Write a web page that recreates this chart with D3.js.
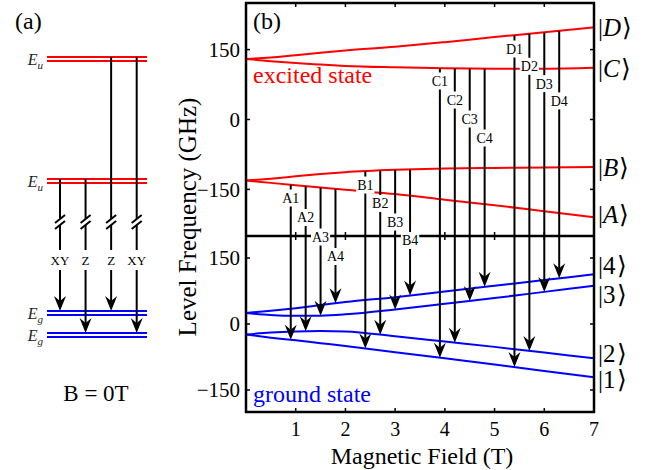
<!DOCTYPE html>
<html>
<head>
<meta charset="utf-8">
<script src="https://cdn.jsdelivr.net/npm/d3@7"></script>
<style>
  body { margin: 0; background: #fff; }
  svg { font-family: "Liberation Serif", "Times New Roman", serif; }
</style>
</head>
<body>
<svg id="chart" width="646" height="470"></svg>
<script>
const fieldT = [0, 0.5, 1, 1.5, 2, 3, 4, 5, 6, 7];

// Excited state levels (GHz)
const levelD = [130, 133, 138, 143, 148, 156, 166, 177, 187, 198];
const levelC = [130, 125, 121, 118, 115, 112, 110, 109, 109, 111];
const levelB = [-131, -127, -122, -117, -113, -108, -105, -104, -103, -102];
const levelA = [-131, -136, -141, -146, -151, -160, -172, -184, -197, -210];

// Ground state levels (GHz)
const level4 = [25, 30, 36, 43, 50, 61, 74, 87, 100, 113];
const level3 = [25, 20.5, 18.5, 19, 22, 33, 46, 59, 73, 87];
const level2 = [-24, -19.5, -17, -16, -17, -28, -40, -52, -65, -78];
const level1 = [-24, -31, -37, -43.5, -50, -64, -78, -92, -107, -121];

const excitedNames = ["D", "C", "B", "A"];
const groundNames = ["4", "3", "2", "1"];

// Optical transitions: label (excited letter + ground number) and field
const transLabels = ["A1", "A2", "A3", "A4", "B1", "B2", "B3", "B4",
                     "C1", "C2", "C3", "C4", "D1", "D2", "D3", "D4"];
const transField = [0.9, 1.2, 1.5, 1.8, 2.4, 2.7, 3.0, 3.3,
                    3.9, 4.2, 4.5, 4.8, 5.4, 5.7, 6.0, 6.3];

const yTicks = [-150, 0, 150];
const xTicks = [1, 2, 3, 4, 5, 6, 7];

// Panel (a): schematic zero-field levels (arbitrary units)
const zeroFieldNames = ["u", "u", "g", "g"];
const zeroFieldEnergy = [276, 154, 22, 0];
const zeroFieldTrans = ["XY", "Z", "Z", "XY"];
const zeroFieldFrom = [1, 1, 0, 0];
const zeroFieldTo = [2, 3, 2, 3];

const svg = d3.select("#chart");
const RED = "#ff0000", BLUE = "#0000ff";

// ---------- panel (b) scales ----------
const x = d3.scaleLinear().domain([0, 7]).range([246, 594]);
const yTop = d3.scaleLinear().domain([-250, 250]).range([236, 3]);
const yBot = d3.scaleLinear().domain([-200, 200]).range([412, 236]);

const excited = { D: levelD, C: levelC, B: levelB, A: levelA };
const ground = { "4": level4, "3": level3, "2": level2, "1": level1 };

function valueAt(arr, b) {
  return d3.scaleLinear().domain(fieldT).range(arr)(b);
}

function curve(yScale) {
  return d3.line()
    .x(d => x(d[0]))
    .y(d => yScale(d[1]))
    .curve(d3.curveMonotoneX);
}

// level curves
excitedNames.forEach(n => {
  svg.append("path")
    .attr("d", curve(yTop)(fieldT.map((b, i) => [b, excited[n][i]])))
    .attr("fill", "none").attr("stroke", RED).attr("stroke-width", 2);
});
groundNames.forEach(n => {
  svg.append("path")
    .attr("d", curve(yBot)(fieldT.map((b, i) => [b, ground[n][i]])))
    .attr("fill", "none").attr("stroke", BLUE).attr("stroke-width", 2);
});

// arrowhead shape, tip at origin pointing down
const headPath = "M0,0 L-6,-15 L0,-10 L6,-15 Z";

// transition arrows
transLabels.forEach((lab, i) => {
  const b = transField[i];
  const y1 = yTop(valueAt(excited[lab[0]], b));
  const y2 = yBot(valueAt(ground[lab[1]], b));
  svg.append("line")
    .attr("x1", x(b)).attr("x2", x(b))
    .attr("y1", y1).attr("y2", y2 - 10)
    .attr("stroke", "#000").attr("stroke-width", 2);
  svg.append("path")
    .attr("d", headPath)
    .attr("transform", `translate(${x(b)},${y2})`)
    .attr("fill", "#000");
});

// frame and separator
svg.append("rect")
  .attr("x", 246).attr("y", 3).attr("width", 348).attr("height", 409)
  .attr("fill", "none").attr("stroke", "#000").attr("stroke-width", 2.5);
svg.append("line")
  .attr("x1", 246).attr("x2", 594).attr("y1", 236).attr("y2", 236)
  .attr("stroke", "#000").attr("stroke-width", 2.5);

// inner ticks
const tickLen = 4;
[yTop, yBot].forEach(ys => {
  yTicks.forEach(t => {
    svg.append("line").attr("x1", 246).attr("x2", 246 + tickLen)
      .attr("y1", ys(t)).attr("y2", ys(t)).attr("stroke", "#000").attr("stroke-width", 1.5);
    svg.append("line").attr("x1", 594).attr("x2", 594 - tickLen)
      .attr("y1", ys(t)).attr("y2", ys(t)).attr("stroke", "#000").attr("stroke-width", 1.5);
  });
  const [yb, yt] = ys.range();
  xTicks.slice(0, -1).forEach(t => {
    svg.append("line").attr("x1", x(t)).attr("x2", x(t))
      .attr("y1", yb).attr("y2", yb - tickLen).attr("stroke", "#000").attr("stroke-width", 1.5);
    svg.append("line").attr("x1", x(t)).attr("x2", x(t))
      .attr("y1", yt).attr("y2", yt + tickLen).attr("stroke", "#000").attr("stroke-width", 1.5);
  });
});

// tick labels
[yTop, yBot].forEach(ys => {
  yTicks.forEach(t => {
    svg.append("text")
      .attr("x", 240).attr("y", ys(t)).attr("dy", "0.35em")
      .attr("text-anchor", "end").attr("font-size", 21)
      .text(t < 0 ? "\u2212" + Math.abs(t) : t);
  });
});
xTicks.forEach(t => {
  svg.append("text")
    .attr("x", x(t)).attr("y", 436)
    .attr("text-anchor", "middle").attr("font-size", 20)
    .text(t);
});

// axis titles
svg.append("text")
  .attr("x", 422).attr("y", 464)
  .attr("text-anchor", "middle").attr("font-size", 24)
  .text("Magnetic Field (T)");
svg.append("text")
  .attr("transform", "translate(196,217) rotate(-90)")
  .attr("text-anchor", "middle").attr("font-size", 25)
  .text("Level Frequency (GHz)");

// state annotations
svg.append("text").attr("x", 253).attr("y", 83).attr("font-size", 24)
  .attr("fill", RED).text("excited state");
svg.append("text").attr("x", 253).attr("y", 402).attr("font-size", 24)
  .attr("fill", BLUE).text("ground state");
svg.append("text").attr("x", 253).attr("y", 29).attr("font-size", 24).text("(b)");

// kets at the right edge
const ketShiftTop = [0, 0, 0, -3];
const ketShiftBot = [-9, 9, -5, 2];
function ket(yPos, name, italic) {
  const t = svg.append("text").attr("x", 598).attr("y", yPos).attr("dy", "0.35em")
    .attr("font-size", 25);
  t.append("tspan").text("|");
  t.append("tspan").attr("font-style", italic ? "italic" : "normal").text(name);
  t.append("tspan").attr("dx", 1).text("\u27E9");
}
excitedNames.forEach((n, i) => ket(yTop(excited[n][fieldT.length - 1]) + ketShiftTop[i], n, true));
groundNames.forEach((n, i) => ket(yBot(ground[n][fieldT.length - 1]) + ketShiftBot[i], n, false));

// transition labels with white background, stacked down each group
const labelStart = { A: 198, B: 185, C: 81, D: 49 };
const labelStep = { A: 19.5, B: 18.5, C: 19, D: 17.3 };
transLabels.forEach((lab, i) => {
  const k = +lab[1] - 1;
  const ly = labelStart[lab[0]] + k * labelStep[lab[0]];
  const g = svg.append("g");
  const t = g.append("text")
    .attr("x", x(transField[i])).attr("y", ly).attr("dy", "0.35em")
    .attr("text-anchor", "middle").attr("font-size", 14).text(lab);
  const bb = t.node().getBBox();
  g.insert("rect", "text")
    .attr("x", bb.x - 1).attr("y", ly - 8.5)
    .attr("width", bb.width + 2).attr("height", 17)
    .attr("fill", "#fff");
});

// ---------- panel (a) ----------
const ax = d3.scaleLinear().domain([0, 3]).range([60, 136.7]);
const ay = d3.scaleLinear().domain([0, 276]).range([333, 57]);
const pairGap = 4;

zeroFieldEnergy.forEach((e, i) => {
  const col = zeroFieldNames[i] === "u" ? RED : BLUE;
  [0, pairGap].forEach(off => {
    svg.append("line").attr("x1", 47).attr("x2", 147)
      .attr("y1", ay(e) + off).attr("y2", ay(e) + off)
      .attr("stroke", col).attr("stroke-width", 2);
  });
  const t = svg.append("text").attr("x", 43).attr("y", ay(e) + 2).attr("dy", "0.35em")
    .attr("text-anchor", "end").attr("font-size", 16).attr("font-style", "italic")
    .attr("fill", "#222");
  t.append("tspan").text("E");
  t.append("tspan").attr("font-size", 11).attr("dy", 4).text(zeroFieldNames[i]);
});

const breakY = 222;
zeroFieldTrans.forEach((lab, i) => {
  const xx = ax(i);
  const y1 = ay(zeroFieldEnergy[zeroFieldFrom[i]]);
  const y2 = ay(zeroFieldEnergy[zeroFieldTo[i]]);
  svg.append("line").attr("x1", xx).attr("x2", xx)
    .attr("y1", y1).attr("y2", y2 - 10)
    .attr("stroke", "#000").attr("stroke-width", 2);
  svg.append("path").attr("d", headPath)
    .attr("transform", `translate(${xx},${y2})`).attr("fill", "#000");
  // axis break
  svg.append("rect").attr("x", xx - 3).attr("y", breakY - 3)
    .attr("width", 6).attr("height", 6).attr("fill", "#fff");
  [-3, 3].forEach(off => {
    svg.append("line")
      .attr("x1", xx - 5).attr("y1", breakY + off + 4)
      .attr("x2", xx + 5).attr("y2", breakY + off - 4)
      .attr("stroke", "#000").attr("stroke-width", 2);
  });
  // polarisation label
  const g = svg.append("g");
  const t = g.append("text").attr("x", xx).attr("y", 260).attr("dy", "0.35em")
    .attr("text-anchor", "middle").attr("font-size", 13).text(lab);
  const bb = t.node().getBBox();
  g.insert("rect", "text").attr("x", bb.x - 1).attr("y", 250)
    .attr("width", bb.width + 2).attr("height", 20).attr("fill", "#fff");
});

svg.append("text").attr("x", 15).attr("y", 29).attr("font-size", 24).text("(a)");
svg.append("text").attr("x", 96).attr("y", 401).attr("text-anchor", "middle")
  .attr("font-size", 23).text("B = 0T");
</script>
</body>
</html>
